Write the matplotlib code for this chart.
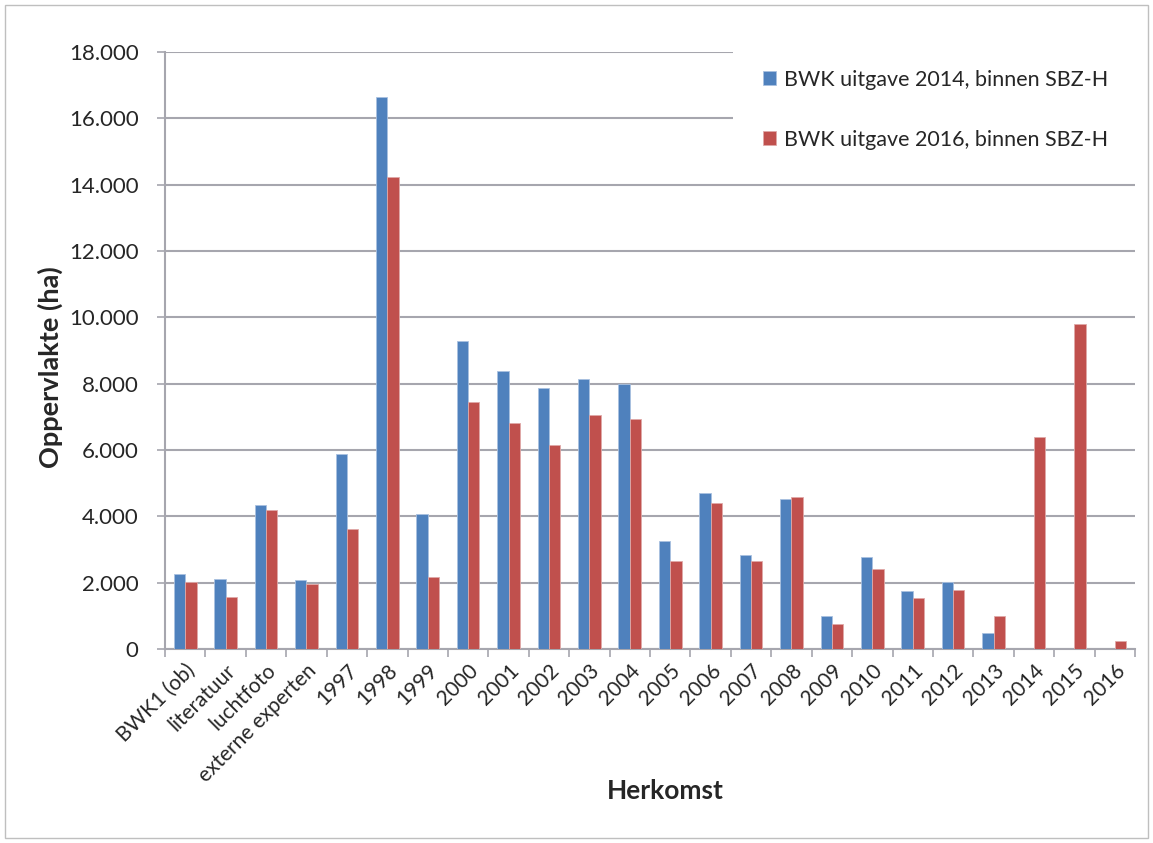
import numpy as np
import matplotlib.pyplot as plt
from matplotlib.patches import Rectangle
from matplotlib.ticker import FuncFormatter

plt.rcParams['font.family'] = ['Lato', 'DejaVu Sans']

categories = ['BWK1 (ob)', 'literatuur', 'luchtfoto', 'externe experten',
              '1997', '1998', '1999', '2000', '2001', '2002', '2003', '2004',
              '2005', '2006', '2007', '2008', '2009', '2010', '2011', '2012',
              '2013', '2014', '2015', '2016']

# oppervlakte (ha) per herkomst
bwk_2014 = [2270, 2120, 4340, 2070, 5870, 16650, 4060, 9290, 8390, 7860,
            8140, 7990, 3260, 4690, 2820, 4510, 990, 2760, 1740, 2030,
            490, 0, 0, 0]
bwk_2016 = [2020, 1570, 4190, 1960, 3610, 14230, 2170, 7460, 6810, 6150,
            7050, 6920, 2660, 4410, 2660, 4590, 740, 2410, 1530, 1790,
            980, 6380, 9810, 240]

label_2014 = 'BWK uitgave 2014, binnen SBZ-H'
label_2016 = 'BWK uitgave 2016, binnen SBZ-H'

blue = '#4F81BD'
red = '#C0504D'
grid_col = '#A6A6AE'
txt_col = '#262626'

W, H = 1153, 843
fig = plt.figure(figsize=(W / 100, H / 100), dpi=100)
ax = fig.add_axes([165 / W, 1 - 649 / H, 970 / W, 597 / H])

x = np.arange(len(categories))
w = 0.28
ax.bar(x - w / 2, bwk_2014, w, color=blue, edgecolor='#A9C1E0', linewidth=0.6,
       label=label_2014, zorder=3)
ax.bar(x + w / 2, bwk_2016, w, color=red, edgecolor='#E0A9A8', linewidth=0.6,
       label=label_2016, zorder=3)

ax.set_xlim(-0.5, len(categories) - 0.5)
ax.set_ylim(0, 18000)
ax.set_yticks(np.arange(0, 18001, 2000))
ax.yaxis.set_major_formatter(FuncFormatter(
    lambda v, p: '0' if v == 0 else f'{int(v):,}'.replace(',', '.')))
ax.yaxis.grid(True, color=grid_col, linewidth=1.5, zorder=0)
ax.set_axisbelow(True)

# tick marks between the categories, labels in the middle
ax.set_xticks(np.arange(-0.5, len(categories), 1.0))
ax.set_xticklabels([])
ax.set_xticks(x, minor=True)
ax.set_xticklabels(categories, minor=True, rotation=45, ha='right',
                   rotation_mode='anchor', fontsize=15, color=txt_col)
ax.tick_params(axis='x', which='minor', length=0, pad=8)
ax.tick_params(axis='x', which='major', length=6, color=grid_col, width=1.2)
ax.tick_params(axis='y', length=6, color=grid_col, width=1.2,
               labelsize=16, labelcolor=txt_col, pad=13)

for side in ['top', 'right']:
    ax.spines[side].set_visible(False)
for side in ['left', 'bottom']:
    ax.spines[side].set_color(grid_col)
    ax.spines[side].set_linewidth(1.5)

ax.set_ylabel('Oppervlakte (ha)', fontsize=19.5, fontweight='bold', color=txt_col)
ax.yaxis.set_label_coords(-0.105, 0.4715)
ax.set_xlabel('Herkomst', fontsize=19, fontweight='bold', color=txt_col)
ax.xaxis.set_label_coords(0.516, -0.218)

# white legend area hides the top gridlines
ax.add_patch(Rectangle(((733 - 165) / 970, (649 - 165) / 597),
                       (1140 - 733) / 970, (165 - 44) / 597,
                       transform=ax.transAxes, facecolor='white',
                       edgecolor='none', zorder=4, clip_on=False))

leg = ax.legend(loc='upper left', bbox_to_anchor=(763 / W, 1 - 70 / H),
                bbox_transform=fig.transFigure, frameon=False, fontsize=15.5,
                handlelength=0.62, handleheight=0.62, labelspacing=1.85,
                borderpad=0, borderaxespad=0, handletextpad=0.35)
leg.set_zorder(5)
for t in leg.get_texts():
    t.set_color(txt_col)

# chart area border
fig.patches.append(Rectangle((5 / W, 5 / H), 1143 / W, 833 / H,
                             transform=fig.transFigure, fill=False,
                             edgecolor='#BFBFBF', linewidth=1.0))

fig.savefig('out.png', dpi=100)
